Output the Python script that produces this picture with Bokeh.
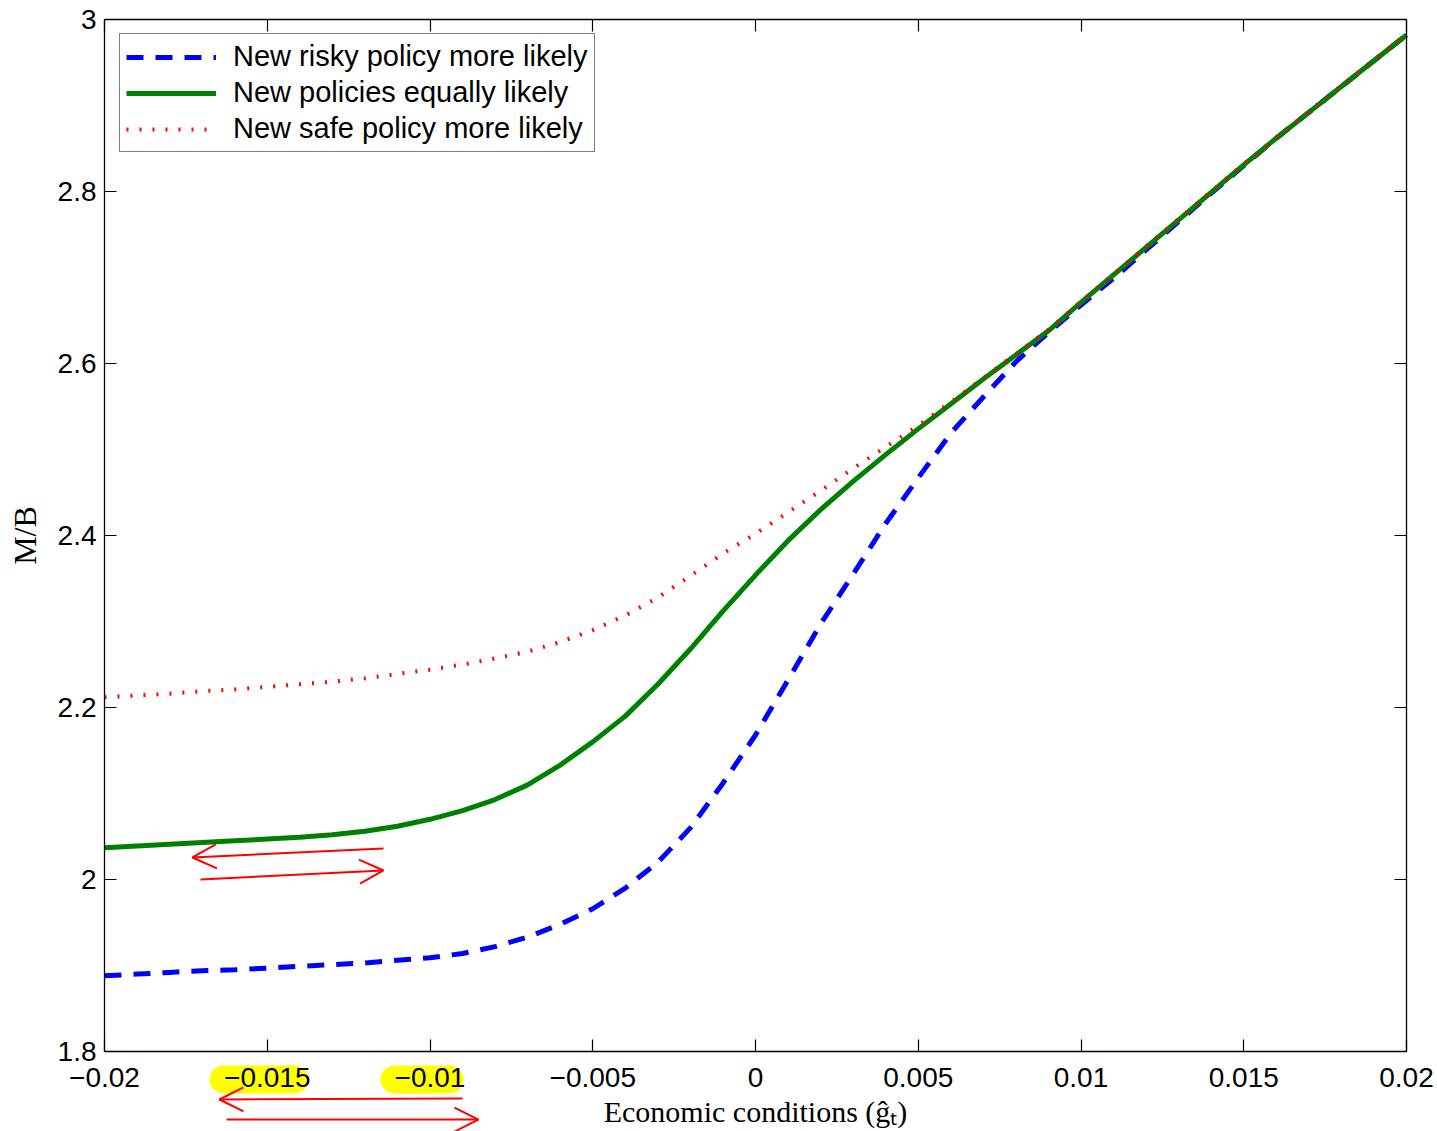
from bokeh.plotting import figure
from bokeh.models import (Range1d, FixedTicker, LinearAxis, Legend, LegendItem,
                          Arrow, OpenHead, BoxAnnotation)
from bokeh.embed import file_html
from bokeh.resources import INLINE

# ---------------- data ----------------
g_hat = [-0.020, -0.019, -0.018, -0.017, -0.016, -0.015, -0.014, -0.013, -0.012, -0.011,
         -0.010, -0.009, -0.008, -0.007, -0.006, -0.005, -0.004, -0.003, -0.002, -0.001,
         0.000, 0.001, 0.002, 0.003, 0.004, 0.005, 0.006, 0.007, 0.008, 0.009,
         0.010, 0.011, 0.012, 0.013, 0.014, 0.015, 0.016, 0.017, 0.018, 0.019, 0.020]

mb_risky = [1.888, 1.890, 1.892, 1.894, 1.895, 1.897, 1.899, 1.901, 1.903, 1.906,
            1.909, 1.914, 1.922, 1.933, 1.948, 1.966, 1.990, 2.020, 2.060, 2.112,
            2.168, 2.232, 2.297, 2.355, 2.414, 2.467, 2.519, 2.561, 2.602, 2.636,
            2.668, 2.699, 2.732, 2.765, 2.798, 2.830, 2.862, 2.892, 2.922, 2.952, 2.982]

mb_equal = [2.037, 2.039, 2.041, 2.043, 2.045, 2.047, 2.049, 2.052, 2.056, 2.062,
            2.070, 2.080, 2.093, 2.110, 2.133, 2.160, 2.190, 2.227, 2.268, 2.312,
            2.354, 2.394, 2.430, 2.463, 2.494, 2.524, 2.553, 2.582, 2.610, 2.638,
            2.671, 2.703, 2.735, 2.767, 2.799, 2.831, 2.862, 2.892, 2.922, 2.952, 2.982]

mb_safe = [2.212, 2.214, 2.216, 2.219, 2.221, 2.224, 2.227, 2.230, 2.234, 2.239,
           2.244, 2.250, 2.257, 2.265, 2.276, 2.290, 2.307, 2.328, 2.353, 2.379,
           2.402, 2.427, 2.452, 2.478, 2.503, 2.528, 2.555, 2.583, 2.611, 2.639,
           2.672, 2.704, 2.736, 2.768, 2.800, 2.832, 2.863, 2.893, 2.923, 2.953, 2.983]

series_names = ["New risky policy more likely", "New policies equally likely",
                "New safe policy more likely"]

x_ticks = [-0.02, -0.015, -0.01, -0.005, 0.0, 0.005, 0.01, 0.015, 0.02]
x_tick_labels = ["\u22120.02", "\u22120.015", "\u22120.01", "\u22120.005", "0",
                 "0.005", "0.01", "0.015", "0.02"]
y_ticks = [1.8, 2.0, 2.2, 2.4, 2.6, 2.8, 3.0]
y_tick_labels = ["1.8", "2", "2.2", "2.4", "2.6", "2.8", "3"]

x_lim = (-0.02, 0.02)
y_lim = (1.8, 3.0)

# annotation positions (data coordinates)
arrows_left = [((-0.01143, 2.0360), (-0.01730, 2.0256)),
               ((-0.00900, 1.7454), (-0.01647, 1.7442))]
arrows_right = [((-0.01705, 2.0000), (-0.01143, 2.0105)),
                ((-0.01625, 1.7209), (-0.00851, 1.7209))]
highlights = [(-0.01677, -0.01373), (-0.01152, -0.00897)]
highlight_band = (1.7512, 1.7837)

# ---------------- figure ----------------
# The frame fills the whole canvas; the axes box is drawn by fixed-location axes
W, H = 1437, 1131
box_left, box_right, box_top, box_bottom = 104, 1406, 19, 1051
sx = (box_right - box_left) / (x_lim[1] - x_lim[0])
sy = (box_bottom - box_top) / (y_lim[1] - y_lim[0])
x_range = Range1d(x_lim[0] - box_left / sx, x_lim[1] + (W - box_right) / sx)
y_range = Range1d(y_lim[0] - (H - box_bottom) / sy, y_lim[1] + box_top / sy)

p = figure(width=W, height=H, x_range=x_range, y_range=y_range,
           output_backend="svg", toolbar_location=None, min_border=0,
           x_axis_location=None, y_axis_location=None)
p.xgrid.visible = False
p.ygrid.visible = False
p.outline_line_color = None
p.background_fill_color = "white"
p.border_fill_color = "white"


def make_axis(ticks, labels, fixed, bounds, show_labels):
    ax = LinearAxis(ticker=FixedTicker(ticks=ticks), fixed_location=fixed, bounds=bounds,
                    major_tick_in=12, major_tick_out=0, minor_tick_line_color=None,
                    major_tick_line_color="black", major_tick_line_width=1.2,
                    axis_line_color="black", axis_line_width=1.3)
    if show_labels:
        ax.major_label_overrides = dict(zip(ticks, labels))
        ax.major_label_text_font = "Liberation Sans"
        ax.major_label_text_font_size = "28px"
        ax.major_label_text_color = "black"
        ax.axis_label_text_font = "Liberation Serif"
        ax.axis_label_text_font_style = "normal"
        ax.axis_label_text_color = "black"
    else:
        ax.major_label_overrides = {t: "" for t in ticks}
    return ax


xb = make_axis(x_ticks, x_tick_labels, y_lim[0], x_lim, True)
xb.axis_label = "Economic conditions (\u011d\u209c)"
xb.axis_label_text_font_size = "30px"
xb.major_label_standoff = 16
xb.axis_label_standoff = 5
p.add_layout(xb, "below")

yl = make_axis(y_ticks, y_tick_labels, x_lim[0], y_lim, True)
yl.axis_label = "M/B"
yl.axis_label_text_font_size = "32px"
yl.major_label_standoff = 8
yl.axis_label_standoff = 12
p.add_layout(yl, "left")

p.add_layout(make_axis(x_ticks, x_tick_labels, y_lim[1], x_lim, False), "above")
p.add_layout(make_axis(y_ticks, y_tick_labels, x_lim[1], y_lim, False), "right")

# highlights under two tick labels
for lft, rgt in highlights:
    p.add_layout(BoxAnnotation(left=lft, right=rgt, bottom=highlight_band[0],
                               top=highlight_band[1], fill_color="#ffff00", fill_alpha=1,
                               line_color=None, border_radius=14, level="underlay"))

r_risky = p.line(g_hat, mb_risky, line_color="#0000ff", line_width=5, line_dash="17 12")
r_equal = p.line(g_hat, mb_equal, line_color="#008000", line_width=5)
r_safe = p.line(g_hat, mb_safe, line_color="#ff0000", line_width=4, line_dash="2 11")

for (xs, ys), (xe, ye) in arrows_left + arrows_right:
    p.add_layout(Arrow(end=OpenHead(size=24, line_color="red", line_width=2),
                       x_start=xs, y_start=ys, x_end=xe, y_end=ye,
                       line_color="red", line_width=2))

legend = Legend(items=[LegendItem(label=series_names[0], renderers=[r_risky]),
                       LegendItem(label=series_names[1], renderers=[r_equal]),
                       LegendItem(label=series_names[2], renderers=[r_safe])],
                location=(119, H - 152), margin=0, padding=6, spacing=3,
                label_text_font="Liberation Sans", label_text_font_size="29px",
                label_text_color="black",
                glyph_width=90, glyph_height=28, label_height=28, label_standoff=17,
                border_line_color="black", border_line_width=1.3,
                background_fill_color="white", background_fill_alpha=1)
p.add_layout(legend)

open("out.html", "w").write(file_html(p, INLINE))
